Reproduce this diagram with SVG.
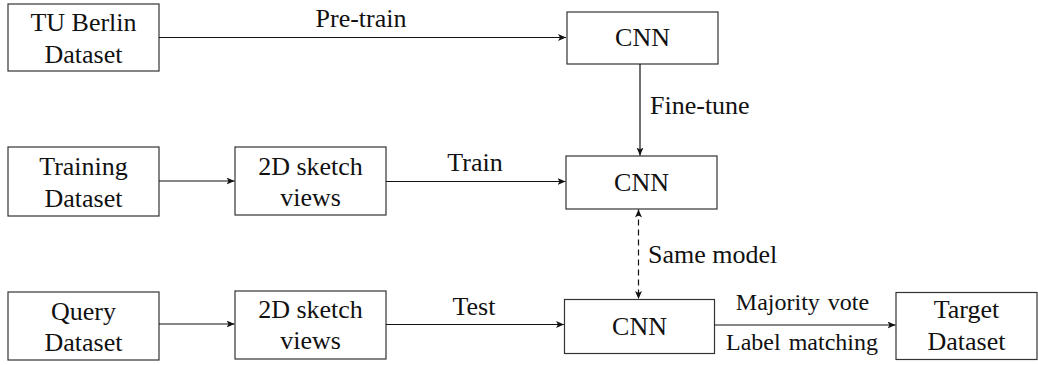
<svg xmlns="http://www.w3.org/2000/svg" width="1038" height="365" viewBox="0 0 1038 365" font-family="Liberation Serif, DejaVu Serif, serif">
<style>
.box{fill:#fff;stroke:#333;stroke-width:1.2}
text{font-family:'Liberation Serif','DejaVu Serif',serif;fill:#111}
.t{font-size:26px;text-anchor:middle}
.l{font-size:26px}
.s{font-size:24px;text-anchor:middle;word-spacing:2px}
.c{fill:none;stroke:#111;stroke-width:1.2}
</style>
<defs>
<marker id="ah" markerUnits="userSpaceOnUse" markerWidth="10" markerHeight="8" refX="8" refY="3.5" orient="auto-start-reverse">
<path d="M0,0 L8,3.5 L0,7 L2,3.5 z" fill="#111"/>
</marker>
</defs>
<rect width="1038" height="365" fill="#fff"/>
<g id="tuberlin"><rect class="box" x="8" y="4" width="151" height="67"/><text class="t" x="83.5" y="31">TU Berlin</text><text class="t" x="83.5" y="63">Dataset</text></g>
<g id="cnn1"><rect class="box" x="567" y="12" width="151" height="52"/><text class="t" x="642.5" y="46">CNN</text></g>
<g id="training"><rect class="box" x="8" y="147" width="151" height="69"/><text class="t" x="83.5" y="175">Training</text><text class="t" x="83.5" y="207">Dataset</text></g>
<g id="sketch1"><rect class="box" x="235" y="147" width="151" height="68"/><text class="t" x="310.5" y="175">2D sketch</text><text class="t" x="310.5" y="206">views</text></g>
<g id="cnn2"><rect class="box" x="566" y="156" width="151" height="53"/><text class="t" x="641.5" y="191">CNN</text></g>
<g id="query"><rect class="box" x="8" y="292" width="151" height="68"/><text class="t" x="83.5" y="320">Query</text><text class="t" x="83.5" y="351">Dataset</text></g>
<g id="sketch2"><rect class="box" x="235" y="291" width="151" height="68"/><text class="t" x="310.5" y="318">2D sketch</text><text class="t" x="310.5" y="349">views</text></g>
<g id="cnn3"><rect class="box" x="564.5" y="299.5" width="150" height="54"/><text class="t" x="639.5" y="335">CNN</text></g>
<g id="target"><rect class="box" x="896" y="292.5" width="141" height="67"/><text class="t" x="966.5" y="318">Target</text><text class="t" x="966.5" y="350">Dataset</text></g>
<g id="connectors">
<line class="c" x1="159" y1="37.5" x2="566" y2="37.5" marker-end="url(#ah)"/>
<text class="t" x="361" y="27">Pre-train</text>
<line class="c" x1="640" y1="64" x2="640" y2="155.5" marker-end="url(#ah)"/>
<text class="l" x="650" y="114">Fine-tune</text>
<line class="c" x1="159" y1="181" x2="234.5" y2="181" marker-end="url(#ah)"/>
<line class="c" x1="386" y1="181.5" x2="565.5" y2="181.5" marker-end="url(#ah)"/>
<text class="t" x="475" y="171">Train</text>
<line class="c" x1="159" y1="324" x2="234.5" y2="324" marker-end="url(#ah)"/>
<line class="c" x1="386" y1="324.5" x2="564" y2="324.5" marker-end="url(#ah)"/>
<text class="t" x="474" y="315">Test</text>
<line class="c" x1="638.5" y1="209.5" x2="638.5" y2="299" stroke-dasharray="6,4" marker-start="url(#ah)" marker-end="url(#ah)"/>
<text class="l" x="648" y="263">Same model</text>
<line class="c" x1="714.5" y1="325" x2="895.5" y2="325" stroke-width="1.6" marker-end="url(#ah)"/>
<text class="s" x="802.5" y="310">Majority vote</text>
<text class="s" x="802" y="350">Label matching</text>
</g>
</svg>
